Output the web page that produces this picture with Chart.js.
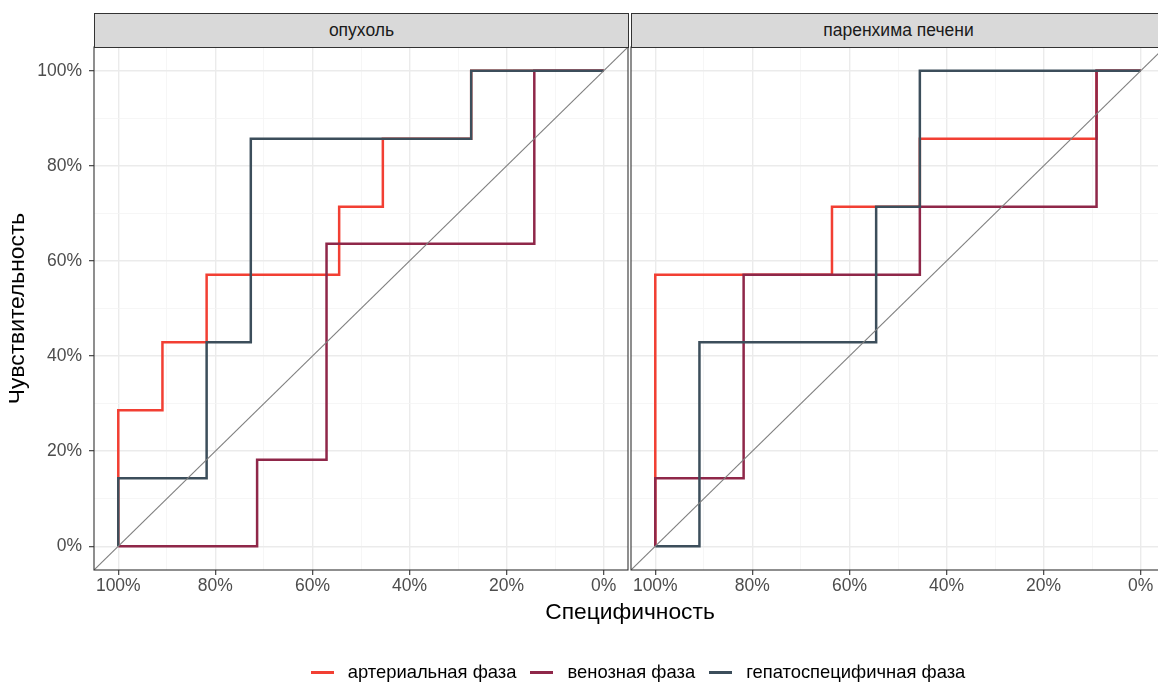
<!DOCTYPE html>
<html>
<head>
<meta charset="utf-8">
<script src="https://cdn.jsdelivr.net/npm/chart.js@4.4.0/dist/chart.umd.min.js"></script>
<style>
    body { margin: 0; background: #fff; }
    #wrap { position: relative; width: 1158px; height: 684px; overflow: hidden; font-family: "Liberation Sans", Arial, sans-serif; }
    canvas { position: absolute; top: 0; }
    .strip { position: absolute; top: 13px; height: 35px; box-sizing: border-box; background: #D9D9D9; border: 1px solid #333; color: #1A1A1A; font-size: 17.5px; line-height: 33px; text-align: center; }
    #xtitle { position: absolute; left: 330px; width: 600px; top: 598px; text-align: center; font-size: 22.8px; color: #000; }
    #legend { position: absolute; left: 0; width: 1276px; top: 660px; height: 24px; display: flex; justify-content: center; align-items: center; font-size: 18.4px; color: #000; }
    .item { display: flex; align-items: center; margin: 0 7px; }
    .key { width: 23px; height: 3px; margin-right: 14px; }
</style>
</head>
<body>
<div id="wrap">
    <canvas id="leftChart" width="630" height="684" style="left:0"></canvas>
    <canvas id="rightChart" width="545" height="684" style="left:629px"></canvas>
    <div class="strip" style="left:94px;width:535px">опухоль</div>
    <div class="strip" style="left:631px;width:535px">паренхима печени</div>
    <div id="xtitle">Специфичность</div>
    <div id="legend"></div>
</div>
<script>
const seriesNames = ['артериальная фаза', 'венозная фаза', 'гепатоспецифичная фаза'];
const seriesColors = ['#F23F33', '#8F2749', '#3C4E5B'];
const panelNames = ['опухоль', 'паренхима печени'];
const tickValues = [0, 10, 20, 30, 40, 50, 60, 70, 80, 90, 100];

// опухоль
const tumorArterialSpec = [100, 100, 90.9, 90.9, 81.8, 81.8, 54.5, 54.5, 45.5, 45.5, 27.3, 27.3, 0];
const tumorArterialSens = [0, 28.6, 28.6, 42.9, 42.9, 57.1, 57.1, 71.4, 71.4, 85.7, 85.7, 100, 100];
const tumorVenousSpec = [100, 71.4, 71.4, 57.1, 57.1, 14.3, 14.3, 0];
const tumorVenousSens = [0, 0, 18.2, 18.2, 63.6, 63.6, 100, 100];
const tumorHepatoSpec = [100, 100, 81.8, 81.8, 72.7, 72.7, 27.3, 27.3, 0];
const tumorHepatoSens = [0, 14.3, 14.3, 42.9, 42.9, 85.7, 85.7, 100, 100];

// паренхима печени
const liverArterialSpec = [100, 100, 63.6, 63.6, 45.5, 45.5, 9.1, 9.1, 0];
const liverArterialSens = [0, 57.1, 57.1, 71.4, 71.4, 85.7, 85.7, 100, 100];
const liverVenousSpec = [100, 100, 81.8, 81.8, 45.5, 45.5, 9.1, 9.1, 0];
const liverVenousSens = [0, 14.3, 14.3, 57.1, 57.1, 71.4, 71.4, 100, 100];
const liverHepatoSpec = [100, 90.9, 90.9, 54.5, 54.5, 45.5, 45.5, 0];
const liverHepatoSens = [0, 0, 42.9, 42.9, 71.4, 71.4, 100, 100];

const diagonalSpec = [105, -5];
const diagonalSens = [-5, 105];

Chart.defaults.font.family = "'Liberation Sans', Arial, sans-serif";
Chart.defaults.animation = false;

function toPoints(spec, sens) {
    return spec.map(function (s, i) { return { x: s, y: sens[i] }; });
}

const panelBorder = {
    id: 'panelBorder',
    afterDraw(chart) {
        const a = chart.chartArea;
        const ctx = chart.ctx;
        ctx.save();
        ctx.strokeStyle = '#333333';
        ctx.lineWidth = 1.1;
        ctx.strokeRect(a.left, a.top, a.right - a.left, a.bottom - a.top);
        ctx.restore();
    }
};

function gridOptions(withTicks) {
    return {
        color: function (c) { return c.tick && c.tick.value % 20 === 0 ? '#EBEBEB' : '#F4F4F4'; },
        lineWidth: function (c) { return c.tick && c.tick.value % 20 === 0 ? 1.4 : 0.8; },
        drawTicks: withTicks,
        tickLength: 5,
        tickWidth: 1.1,
        tickColor: function (c) { return c.tick && c.tick.value % 20 === 0 ? '#333333' : 'rgba(0,0,0,0)'; }
    };
}

function setTicks(scale) {
    scale.ticks = tickValues.map(function (v) { return { value: v }; });
}

function makeChart(canvasId, curves, showY, padding) {
    const datasets = curves.map(function (c, i) {
        return {
            label: seriesNames[i],
            data: toPoints(c[0], c[1]),
            borderColor: seriesColors[i],
            borderWidth: 2.5,
            pointRadius: 0,
            tension: 0,
            fill: false,
            order: 3 - i
        };
    });
    datasets.push({
        label: 'diag',
        data: toPoints(diagonalSpec, diagonalSens),
        borderColor: '#7F7F7F',
        borderWidth: 1.1,
        pointRadius: 0,
        fill: false,
        order: 0
    });

    return new Chart(document.getElementById(canvasId), {
        type: 'line',
        data: { datasets },
        plugins: [panelBorder],
        options: {
            responsive: false,
            maintainAspectRatio: false,
            layout: { padding },
            plugins: { legend: { display: false }, tooltip: { enabled: false } },
            scales: {
                x: {
                    type: 'linear',
                    min: -5,
                    max: 105,
                    reverse: true,
                    afterBuildTicks: setTicks,
                    afterFit: function (scale) { scale.height = 30; },
                    border: { display: false },
                    grid: gridOptions(true),
                    ticks: {
                        autoSkip: false,
                        maxRotation: 0,
                        padding: 1,
                        color: '#4D4D4D',
                        font: { size: 17.5 },
                        callback: function (v) { return v % 20 === 0 ? v + '%' : ''; }
                    }
                },
                y: {
                    type: 'linear',
                    min: -5,
                    max: 105,
                    afterBuildTicks: setTicks,
                    afterFit: function (scale) { scale.width = showY ? 94 : 0; },
                    border: { display: false },
                    grid: gridOptions(showY),
                    title: {
                        display: showY,
                        text: 'Чувствительность',
                        color: '#000',
                        font: { size: 22.8 },
                        padding: { top: 4, bottom: 0 }
                    },
                    ticks: {
                        display: showY,
                        autoSkip: false,
                        padding: 7,
                        color: '#4D4D4D',
                        font: { size: 17.5 },
                        callback: function (v) { return v % 20 === 0 ? v + '%' : ''; }
                    }
                }
            }
        }
    });
}

makeChart('leftChart', [
    [tumorArterialSpec, tumorArterialSens],
    [tumorVenousSpec, tumorVenousSens],
    [tumorHepatoSpec, tumorHepatoSens]
], true, { left: 0, right: 2, top: 47, bottom: 84 });

makeChart('rightChart', [
    [liverArterialSpec, liverArterialSens],
    [liverVenousSpec, liverVenousSens],
    [liverHepatoSpec, liverHepatoSens]
], false, { left: 2, right: 9, top: 47, bottom: 84 });

const legend = document.getElementById('legend');
seriesNames.forEach(function (name, i) {
    const item = document.createElement('div');
    item.className = 'item';
    const key = document.createElement('div');
    key.className = 'key';
    key.style.background = seriesColors[i];
    const label = document.createElement('span');
    label.textContent = name;
    item.appendChild(key);
    item.appendChild(label);
    legend.appendChild(item);
});
</script>
</body>
</html>
